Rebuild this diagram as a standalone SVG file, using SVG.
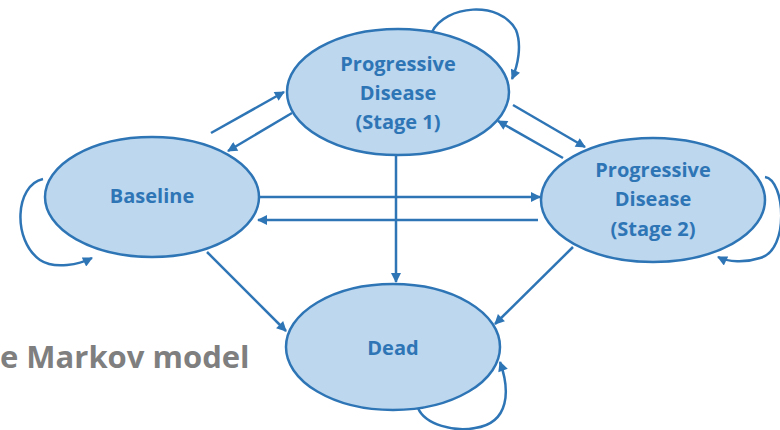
<svg xmlns="http://www.w3.org/2000/svg" width="780" height="430" viewBox="0 0 780 430">
<defs>
<marker id="ah" viewBox="0 0 10 10" refX="9" refY="5" markerWidth="11" markerHeight="10" markerUnits="userSpaceOnUse" orient="auto">
<path d="M0,0 L10,5 L0,10 z" fill="#2e75b6"/>
</marker>
</defs>
<style>
.node{fill:#bdd7ee;stroke:#2e75b6;stroke-width:2.5}
.lbl{font-family:"Open Sans","Liberation Sans",sans-serif;font-weight:bold;font-size:20px;fill:#2e75b6;text-anchor:middle}
.c{fill:none;stroke:#2e75b6;stroke-width:2.5;marker-end:url(#ah)}
.title{font-family:"Open Sans","Liberation Sans",sans-serif;font-weight:bold;font-size:31px;fill:#7f7f7f}
</style>
<rect width="780" height="430" fill="#ffffff"/>
<text class="title" x="0" y="368">e Markov model</text>
<g id="connectors">
<path class="c" d="M432,32 C445,5 500,0 516,30 C522,45 518,65 512,79"/>
<path class="c" d="M43,179 C15,185 12,240 40,260 C55,270 80,264 92,258"/>
<path class="c" d="M765,177 C785,180 790,250 760,258 C745,263 728,262 718,257"/>
<path class="c" d="M418,408 C425,425 455,432 475,428 C510,423 510,390 500,362"/>
<line class="c" x1="211" y1="133" x2="284" y2="92"/>
<line class="c" x1="292" y1="113" x2="228" y2="151"/>
<line class="c" x1="513" y1="105" x2="585" y2="147"/>
<line class="c" x1="563" y1="158" x2="498" y2="121"/>
<line class="c" x1="259" y1="197" x2="540" y2="197"/>
<line class="c" x1="538" y1="220" x2="258" y2="220"/>
<line class="c" x1="396" y1="155" x2="396" y2="282"/>
<line class="c" x1="207" y1="252" x2="286" y2="331"/>
<line class="c" x1="573" y1="247" x2="495" y2="324"/>
</g>
<g id="stage1">
<ellipse class="node" cx="398" cy="92" rx="111" ry="63"/>
<text class="lbl" x="398" y="71">Progressive</text>
<text class="lbl" x="398" y="100">Disease</text>
<text class="lbl" x="398" y="129">(Stage 1)</text>
</g>
<g id="baseline">
<ellipse class="node" cx="152" cy="197" rx="107" ry="60"/>
<text class="lbl" x="152" y="203">Baseline</text>
</g>
<g id="stage2">
<ellipse class="node" cx="653" cy="200" rx="112" ry="62"/>
<text class="lbl" x="653" y="177">Progressive</text>
<text class="lbl" x="653" y="206">Disease</text>
<text class="lbl" x="653" y="236">(Stage 2)</text>
</g>
<g id="dead">
<ellipse class="node" cx="393" cy="347" rx="107" ry="63"/>
<text class="lbl" x="393" y="355">Dead</text>
</g>
</svg>
